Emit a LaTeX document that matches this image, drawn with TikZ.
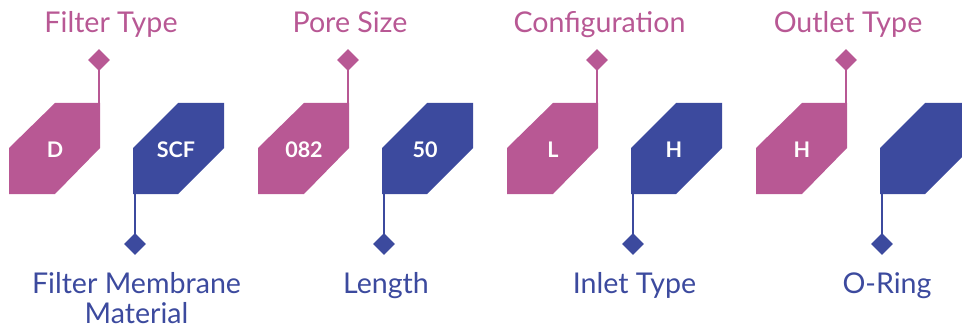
\documentclass[tikz,border=0pt]{standalone}
\usepackage{fontspec}
\setmainfont{Lato}
\usetikzlibrary{shapes.geometric}
\definecolor{codepink}{RGB}{184,88,148}
\definecolor{codeblue}{RGB}{60,74,158}
\begin{document}
\begin{tikzpicture}[x=1pt,y=-1pt,
  marker/.style={diamond,fill=#1,draw=none,inner sep=0pt,minimum width=22pt,minimum height=22pt},
  stem/.style={draw=#1,line width=2.6pt},
  intext/.style={text=white,font=\fontsize{21.5}{24}\selectfont\bfseries,inner sep=0pt},
  caption/.style={text=#1,font=\fontsize{28.6}{30}\selectfont,anchor=base,inner sep=0pt,align=center}]
  \useasboundingbox (0,0) rectangle (962,329);
  % code segments: a pink block with a marker above, a blue block with a marker below
  \foreach \i/\pt/\bt in {1/D/SCF,2/082/50,3/L/H,4/H/} {
    \pgfmathsetmacro\ox{249*(\i-1)}
    \begin{scope}[xshift=\ox pt]
      \fill[codepink] (9,148) -- (55,103) -- (100,103) -- (100,148) -- (55,194) -- (9,194) -- cycle;
      \fill[codeblue] (133,148) -- (178,103) -- (224,103) -- (224,148) -- (178,194) -- (133,194) -- cycle;
      \coordinate (ptop\i) at (99,103);
      \coordinate (bbot\i) at (135,194);
      \node[marker=codepink] (pd\i) at (99,60) {};
      \node[marker=codeblue] (bd\i) at (135,244) {};
      \draw[stem=codepink] (pd\i.center) -- (ptop\i);
      \draw[stem=codeblue] (bbot\i) -- (bd\i.center);
      \node[intext] (pin\i) at (55,150) {\pt};
      \node[intext] (bin\i) at (176,150) {\bt};
    \end{scope}
  }
  % field names
  \node[caption=codepink] (t1) at (111,33) {Filter Type};
  \node[caption=codepink] (t2) at (350,33) {Pore Size};
  \node[caption=codepink] (t3) at (599.5,33) {Configuration};
  \node[caption=codepink] (t4) at (848,33) {Outlet Type};
  \node[caption=codeblue] (b1) at (136.5,323) {Filter Membrane\\Material};
  \node[caption=codeblue] (b2) at (386,293) {Length};
  \node[caption=codeblue] (b3) at (634.5,293) {Inlet Type};
  \node[caption=codeblue] (b4) at (887,293) {O-Ring};
\end{tikzpicture}
\end{document}
